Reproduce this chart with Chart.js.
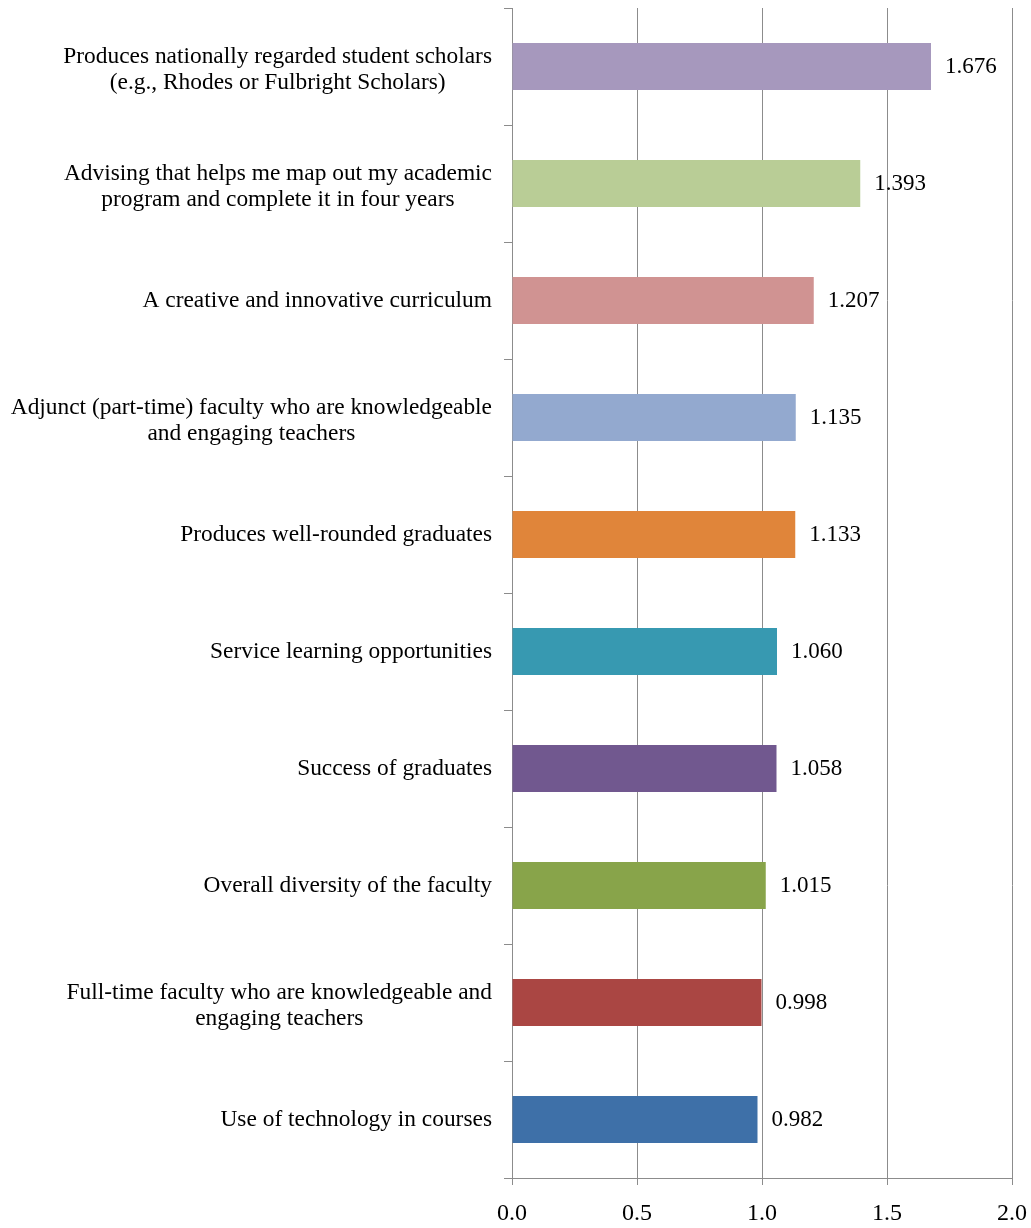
<!DOCTYPE html>
<html>
<head>
<meta charset="utf-8">
<script src="https://cdn.jsdelivr.net/npm/chart.js@4"></script>
<style>
  body { margin: 0; background: #fff; }
  #wrap { width: 1031px; height: 1228px; }
</style>
</head>
<body>
<div id="wrap"><canvas id="chart-area" width="1031" height="1228"></canvas></div>
<script>
var categories = [
  ['Produces nationally regarded student scholars', '(e.g., Rhodes or Fulbright Scholars)'],
  ['Advising that helps me map out my academic', 'program and complete it in four years'],
  ['A creative and innovative curriculum'],
  ['Adjunct (part-time) faculty who are knowledgeable', 'and engaging teachers'],
  ['Produces well-rounded graduates'],
  ['Service learning opportunities'],
  ['Success of graduates'],
  ['Overall diversity of the faculty'],
  ['Full-time faculty who are knowledgeable and', 'engaging teachers'],
  ['Use of technology in courses']
];
var scores = [1.676, 1.393, 1.207, 1.135, 1.133, 1.060, 1.058, 1.015, 0.998, 0.982];
var barColors = [
  '#a698bd', '#b9cd96', '#d09392', '#93a9cf', '#e0853a',
  '#3799b1', '#71588f', '#88a44a', '#aa4643', '#3e70a8'
];
var xTicks = [0, 0.5, 1.0, 1.5, 2.0];

var serif = '"Liberation Serif", "Times New Roman", serif';

// draw the category labels: block right aligned, lines centred inside the block
var catLabels = {
  id: 'catLabels',
  afterDraw: function(chart) {
    var ctx = chart.ctx;
    var y = chart.scales.y;
    var rightEdge = y.right - 20;
    var lineH = 26;
    ctx.save();
    ctx.font = '23.4px ' + serif;
    ctx.fillStyle = '#000';
    ctx.textAlign = 'center';
    ctx.textBaseline = 'middle';
    categories.forEach(function(lines, i) {
      var widest = 0;
      lines.forEach(function(l) { widest = Math.max(widest, ctx.measureText(l).width); });
      var cx = rightEdge - widest / 2;
      var cy = y.getPixelForTick(i) - (lines.length - 1) * lineH / 2 + (lines.length - 1) * 3;
      lines.forEach(function(l, k) { ctx.fillText(l, cx, cy + k * lineH); });
    });
    ctx.restore();
  }
};

// value labels right of each bar
var valueLabels = {
  id: 'valueLabels',
  afterDatasetsDraw: function(chart) {
    var ctx = chart.ctx;
    var meta = chart.getDatasetMeta(0);
    ctx.save();
    ctx.font = '23px ' + serif;
    ctx.fillStyle = '#000';
    ctx.textAlign = 'left';
    ctx.textBaseline = 'middle';
    meta.data.forEach(function(bar, i) {
      ctx.fillText(scores[i].toFixed(3), bar.x + 14, bar.y);
    });
    ctx.restore();
  }
};

var ctx = document.getElementById('chart-area').getContext('2d');
var config = {
  type: 'bar',
  data: {
    labels: categories.map(function(c) { return c.join(' '); }),
    datasets: [{
      data: scores,
      backgroundColor: barColors,
      borderWidth: 0,
      barPercentage: 0.8,
      categoryPercentage: 0.5
    }]
  },
  options: {
    indexAxis: 'y',
    responsive: false,
    animation: false,
    layout: { padding: { top: 8, right: 19, left: 0, bottom: 0 } },
    plugins: {
      legend: { display: false },
      tooltip: { enabled: false }
    },
    scales: {
      x: {
        min: 0,
        max: 2,
        afterBuildTicks: function(scale) {
          scale.ticks = xTicks.map(function(v) { return { value: v }; });
        },
        afterFit: function(scale) {
          scale.height = 50;
          scale.paddingLeft = 0;
          scale.paddingRight = 0;
        },
        grid: {
          color: '#8c8c8c',
          lineWidth: 1,
          tickLength: 7,
          drawTicks: true
        },
        border: { color: '#8c8c8c' },
        ticks: {
          color: '#000',
          padding: 14,
          font: { family: serif, size: 24 },
          callback: function(v) { return Number(v).toFixed(1); }
        }
      },
      y: {
        offset: true,
        afterFit: function(scale) { scale.width = 512; },
        grid: {
          offset: true,
          drawOnChartArea: false,
          color: '#8c8c8c',
          tickLength: 8
        },
        border: { color: '#8c8c8c' },
        ticks: { color: 'rgba(0,0,0,0)', font: { family: serif, size: 6 } }
      }
    }
  },
  plugins: [catLabels, valueLabels]
};
window.myBarChart = new Chart(ctx, config);
</script>
</body>
</html>
